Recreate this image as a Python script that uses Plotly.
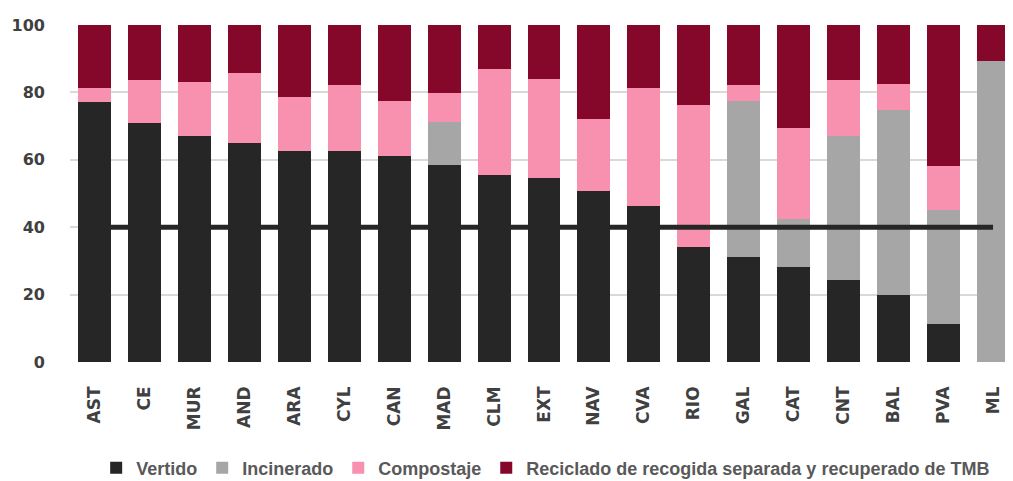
import plotly.graph_objects as go

categories = ["AST", "CE", "MUR", "AND", "ARA", "CYL", "CAN", "MAD", "CLM", "EXT",
              "NAV", "CVA", "RIO", "GAL", "CAT", "CNT", "BAL", "PVA", "ML"]

vertido = [77.1, 70.9, 67.2, 64.9, 62.6, 62.6, 61.1, 58.5, 55.5, 54.7,
           50.8, 46.4, 34.1, 31.2, 28.1, 24.2, 19.8, 11.4, 0.0]
incinerado = [0.0, 0.0, 0.0, 0.0, 0.0, 0.0, 0.0, 12.8, 0.0, 0.0,
              0.0, 0.0, 0.0, 46.2, 14.4, 43.0, 55.0, 33.7, 89.2]
compostaje = [4.2, 12.7, 16.0, 20.9, 16.0, 19.5, 16.3, 8.4, 31.4, 29.3,
              21.4, 34.9, 42.2, 4.7, 27.0, 16.4, 7.6, 13.1, 0.0]
reciclado = [18.7, 16.4, 16.8, 14.2, 21.4, 17.9, 22.6, 20.3, 13.1, 16.0,
             27.8, 18.7, 23.7, 17.9, 30.5, 16.4, 17.6, 41.8, 10.8]
objetivo = [40] * len(categories)

series_names = ["Vertido", "Incinerado", "Compostaje",
                "Reciclado de recogida separada y recuperado de TMB"]
series_values = [vertido, incinerado, compostaje, reciclado]
series_colors = ["#262626", "#A6A6A6", "#F891AF", "#85082B"]

y_ticks = [0, 20, 40, 60, 80, 100]

fig = go.Figure()
for name, vals, col in zip(series_names, series_values, series_colors):
    fig.add_trace(go.Bar(x=categories, y=vals, name=name,
                         marker=dict(color=col, line=dict(width=0))))

fig.add_trace(go.Scatter(x=categories, y=objetivo, mode="lines",
                         line=dict(color="#262626", width=5),
                         showlegend=False, hoverinfo="skip"))

# the page body adds an 8px offset, so the figure is drawn 8px smaller
W, H = 1005, 473
fig.update_layout(
    barmode="stack",
    bargap=0.34,
    width=W, height=H,
    margin=dict(l=62, r=0, t=17, b=119, autoexpand=False),
    plot_bgcolor="white", paper_bgcolor="white",
    font=dict(family="DejaVu Sans, sans-serif", color="#404040"),
    legend=dict(orientation="h", x=0.535, xanchor="center", xref="container",
                y=13 / H, yanchor="middle", yref="container",
                font=dict(family="Liberation Sans Narrow, Liberation Sans, sans-serif",
                          size=18, color="#595959", weight="bold"),
                traceorder="normal", itemwidth=30),
    xaxis=dict(range=[-0.5, 18.4], tickangle=-90, showgrid=False, automargin=False,
               tickfont=dict(family="DejaVu Sans", size=17, weight="bold", color="#404040"),
               ticklabelstandoff=20, showline=False, zeroline=False),
    yaxis=dict(range=[0, 100], tickvals=y_ticks, showgrid=True, automargin=False,
               gridcolor="#D9D9D9", gridwidth=1.5, zeroline=False,
               tickfont=dict(family="DejaVu Sans", size=16, weight="bold", color="#404040"),
               ticklabelstandoff=24),
)

fig.write_html("out.html")
